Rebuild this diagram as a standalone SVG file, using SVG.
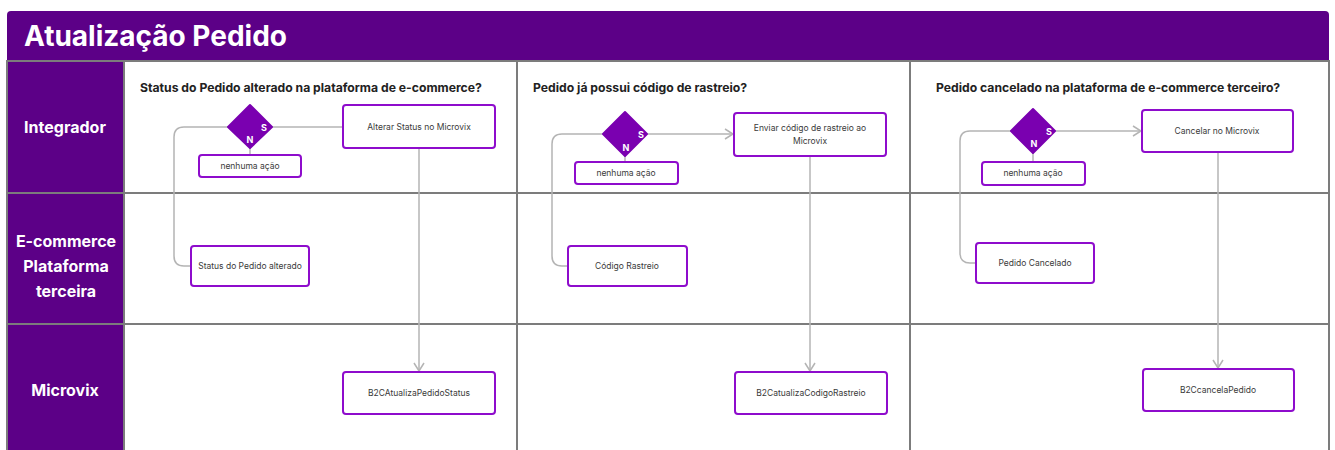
<svg xmlns="http://www.w3.org/2000/svg" width="1335" height="450" viewBox="0 0 1335 450">
<defs>
<marker id="arr" viewBox="0 0 12 12" refX="11" refY="6" markerWidth="12" markerHeight="12" markerUnits="userSpaceOnUse" orient="auto">
<path d="M3,1 L11,6 L3,11" fill="none" stroke="#b4b4b4" stroke-width="1.5"/>
</marker>
<style>
.grid{stroke:#7c7c7c;stroke-width:2;fill:none}
.lane{fill:#5c0087}
.lanet{font-family:Inter,"Liberation Sans",sans-serif;font-weight:700;font-size:16px;fill:#ffffff;text-anchor:middle}
.sect{font-family:Inter,"Liberation Sans",sans-serif;font-weight:700;font-size:12.2px;fill:#222222}
.box{fill:#ffffff;stroke:#8e0ccc;stroke-width:2}
.bt{font-family:Inter,"Liberation Sans",sans-serif;font-size:8.5px;fill:#3a3a3a;text-anchor:middle}
.dia{fill:#7a00b0}
.dl{font-family:Inter,"Liberation Sans",sans-serif;font-weight:700;font-size:9px;fill:#ffffff;text-anchor:middle}
.con{fill:none;stroke:#b4b4b4;stroke-width:1.5}
</style>
</defs>
<rect x="0" y="0" width="1335" height="450" fill="#ffffff"/>
<g id="header">
<path d="M7,61 V15 Q7,11 11,11 H1325 Q1329,11 1329,15 V61 Z" fill="#5c0087"/>
<text x="24" y="46" font-family="Inter,'Liberation Sans',sans-serif" font-weight="700" font-size="28" fill="#ffffff">Atualização Pedido</text>
</g>
<g id="lanes">
<rect class="lane" x="7" y="61" width="117" height="389"/>
<text class="lanet" x="65" y="133">Integrador</text>
<text class="lanet" x="66" y="247">E-commerce</text>
<text class="lanet" x="66" y="272">Plataforma</text>
<text class="lanet" x="66" y="297">terceira</text>
<text class="lanet" x="65" y="396">Microvix</text>
</g>
<g id="grid">
<path class="grid" d="M7,452 V61 H1329 V452"/>
<path class="grid" d="M7,193 H1329 M7,324 H1329 M124,61 V452 M517,61 V452 M910,61 V452"/>
</g>
<g id="titles">
<text class="sect" x="140" y="92">Status do Pedido alterado na plataforma de e-commerce?</text>
<text class="sect" x="533" y="92">Pedido já possui código de rastreio?</text>
<text class="sect" x="936" y="92">Pedido cancelado na plataforma de e-commerce terceiro?</text>
</g>
<g id="connectors">
<path class="con" d="M272,127 H343"/>
<path class="con" d="M250,147 V155"/>
<path class="con" d="M191,266 H184 Q174,266 174,256 V137 Q174,127 184,127 H228"/>
<path class="con" d="M419,148 V371" marker-end="url(#arr)"/>
<path class="con" d="M647,134 H733" marker-end="url(#arr)"/>
<path class="con" d="M625,156 V162"/>
<path class="con" d="M568,266 H562 Q552,266 552,256 V144 Q552,134 562,134 H603"/>
<path class="con" d="M810,156 V371" marker-end="url(#arr)"/>
<path class="con" d="M1055,131 H1141" marker-end="url(#arr)"/>
<path class="con" d="M1033,153 V162"/>
<path class="con" d="M976,263 H970 Q960,263 960,253 V141 Q960,131 970,131 H1012"/>
<path class="con" d="M1218,152 V368" marker-end="url(#arr)"/>
</g>
<g id="d1"><path class="dia" d="M250,105 L272,127 L250,148 L228,127 Z" stroke="#7a00b0" stroke-width="2" stroke-linejoin="round"/><text class="dl" x="264" y="131">S</text><text class="dl" x="250" y="143">N</text></g>
<g id="n1a"><rect class="box" x="199" y="155" width="102" height="22" rx="3"/><text class="bt" x="250" y="169">nenhuma ação</text></g>
<g id="n1b"><rect class="box" x="343" y="105" width="152" height="43" rx="3"/><text class="bt" x="419" y="130">Alterar Status no Microvix</text></g>
<g id="n1c"><rect class="box" x="191" y="246" width="118" height="40" rx="3"/><text class="bt" x="250" y="269">Status do Pedido alterado</text></g>
<g id="n1d"><rect class="box" x="343" y="372" width="152" height="42" rx="3"/><text class="bt" x="419" y="396">B2CAtualizaPedidoStatus</text></g>
<g id="d2"><path class="dia" d="M625,112 L647,134 L625,156 L603,134 Z" stroke="#7a00b0" stroke-width="2" stroke-linejoin="round"/><text class="dl" x="641" y="138">S</text><text class="dl" x="626" y="151">N</text></g>
<g id="n2a"><rect class="box" x="575" y="162" width="103" height="22" rx="3"/><text class="bt" x="626" y="176">nenhuma ação</text></g>
<g id="n2b"><rect class="box" x="734" y="113" width="152" height="43" rx="3"/><text class="bt" x="810" y="131">Enviar código de rastreio ao</text><text class="bt" x="810" y="144">Microvix</text></g>
<g id="n2c"><rect class="box" x="568" y="246" width="119" height="40" rx="3"/><text class="bt" x="627" y="269">Código Rastreio</text></g>
<g id="n2d"><rect class="box" x="735" y="372" width="152" height="42" rx="3"/><text class="bt" x="811" y="396">B2CatualizaCodigoRastreio</text></g>
<g id="d3"><path class="dia" d="M1033,109 L1055,131 L1033,153 L1011,131 Z" stroke="#7a00b0" stroke-width="2" stroke-linejoin="round"/><text class="dl" x="1049" y="135">S</text><text class="dl" x="1034" y="147">N</text></g>
<g id="n3a"><rect class="box" x="982" y="162" width="103" height="23" rx="3"/><text class="bt" x="1033" y="176">nenhuma ação</text></g>
<g id="n3b"><rect class="box" x="1142" y="110" width="151" height="42" rx="3"/><text class="bt" x="1217" y="134">Cancelar no Microvix</text></g>
<g id="n3c"><rect class="box" x="976" y="243" width="118" height="40" rx="3"/><text class="bt" x="1035" y="266">Pedido Cancelado</text></g>
<g id="n3d"><rect class="box" x="1143" y="369" width="151" height="42" rx="3"/><text class="bt" x="1218" y="393">B2CcancelaPedido</text></g>
</svg>
